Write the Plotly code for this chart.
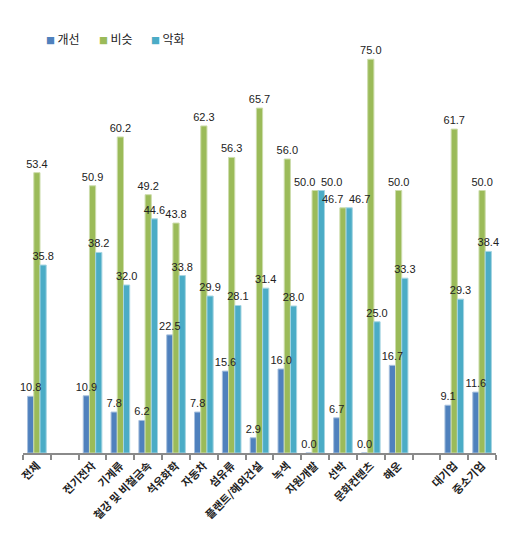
import plotly.graph_objects as go

categories = ["전체", " ", "전기전자", "기계류", "철강 및 비철금속", "석유화학", "자동차", "섬유류",
              "플랜트/해외건설", "녹색", "자원개발", "선박", "문화컨텐츠", "해운", "  ", "대기업", "중소기업"]
improve = [10.8, None, 10.9, 7.8, 6.2, 22.5, 7.8, 15.6, 2.9, 16.0, 0.0, 6.7, 0.0, 16.7, None, 9.1, 11.6]
similar = [53.4, None, 50.9, 60.2, 49.2, 43.8, 62.3, 56.3, 65.7, 56.0, 50.0, 46.7, 75.0, 50.0, None, 61.7, 50.0]
worse = [35.8, None, 38.2, 32.0, 44.6, 33.8, 29.9, 28.1, 31.4, 28.0, 50.0, 46.7, 25.0, 33.3, None, 29.3, 38.4]

series_names = ["개선", "비슷", "악화"]
series_colors = ["#4F81BD", "#9BBB59", "#4BACC6"]
series_edges = ["#A7C0DE", "#CDDDAC", "#A5D5E2"]
series_values = [improve, similar, worse]

# categories where two equal labels sit side by side (placed as separate annotations)
side_by_side = ["자원개발", "선박"]

LABEL_FONT = dict(family="Liberation Sans, Arial, sans-serif", size=11, color="#222222")

fig = go.Figure()
for k, (name, vals, col, edge) in enumerate(zip(series_names, series_values, series_colors, series_edges)):
    fig.add_trace(go.Bar(
        name=name, x=categories, y=vals, offsetgroup=str(k),
        marker=dict(color=col, line=dict(color=edge, width=1)),
        showlegend=False,
    ))
# value labels drawn above all bar layers
for k, (name, vals) in enumerate(zip(series_names, series_values)):
    texts = []
    for v, c in zip(vals, categories):
        if v is None or (k > 0 and c in side_by_side):
            texts.append("")
        else:
            texts.append(f"{v:.1f}")
    fig.add_trace(go.Bar(
        name=name + " 값", x=categories, y=vals, offsetgroup=str(k),
        marker=dict(color="rgba(0,0,0,0)", line=dict(width=0)),
        text=texts, textposition="outside", constraintext="none",
        textfont=LABEL_FONT, cliponaxis=False, showlegend=False, hoverinfo="skip",
    ))

annotations = []
for c in side_by_side:
    i = categories.index(c)
    annotations.append(dict(x=c, y=similar[i], xref="x", yref="y", text=f"{similar[i]:.1f}",
                            xanchor="right", yanchor="bottom", xshift=2, yshift=1,
                            showarrow=False, font=LABEL_FONT))
    annotations.append(dict(x=c, y=worse[i], xref="x", yref="y", text=f"{worse[i]:.1f}",
                            xanchor="left", yanchor="bottom", xshift=4, yshift=1,
                            showarrow=False, font=LABEL_FONT))

# legend drawn as text
legend_x_px = [36, 89, 141]
for name, col, px in zip(series_names, series_colors, legend_x_px):
    annotations.append(dict(
        xref="paper", yref="paper", x=(px - 15) / 473, y=(445 - 31) / 440,
        xanchor="left", yanchor="middle", showarrow=False,
        text=f"<span style='color:{col};font-size:9px'>■</span>\u2009{name}",
        font=dict(family="Noto Sans CJK KR", size=12, color="#222222"),
    ))

fig.update_layout(
    width=512, height=533,
    margin=dict(l=15, r=24, t=5, b=88),
    paper_bgcolor="white", plot_bgcolor="white",
    barmode="group", bargap=0.33, bargroupgap=0,
    font=dict(family="Noto Sans CJK KR, sans-serif", size=11, color="#222222"),
    showlegend=False,
    annotations=annotations,
)
fig.update_xaxes(
    type="category", tickangle=-45, showline=True, linecolor="#8A8A8A", linewidth=2,
    ticks="outside", tickson="boundaries", ticklen=5, tickwidth=1.5, tickcolor="#8A8A8A",
    tickfont=dict(family="Noto Sans CJK KR", size=11, color="#222222", weight="bold"),
    showgrid=False, zeroline=False, automargin=False,
)
fig.update_yaxes(range=[0, 440 / 5.25], visible=False, showgrid=False, zeroline=False, automargin=False)

fig.write_html("out.html")
